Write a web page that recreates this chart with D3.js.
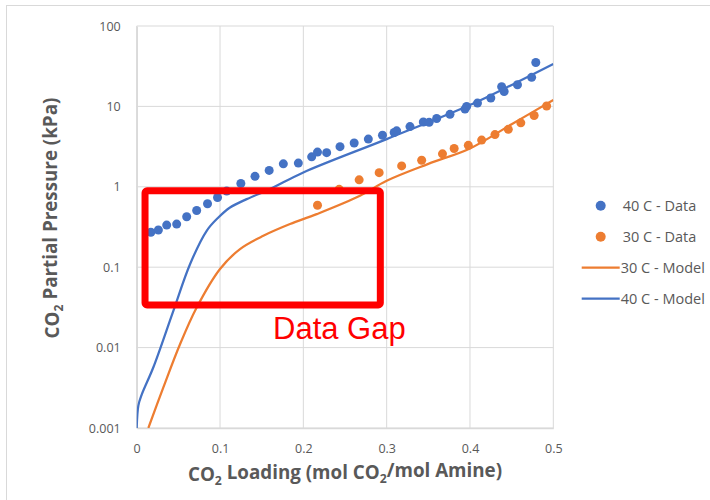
<!DOCTYPE html>
<html>
<head>
<meta charset="utf-8">
<script src="https://cdn.jsdelivr.net/npm/d3@7"></script>
<style>
    body { margin: 0; background: #fff; }
    svg { display: block; font-family: "Open Sans", sans-serif; }
</style>
</head>
<body>
<div id="chart"></div>
<script>
// ---- data ----
const xTicks = [0, 0.1, 0.2, 0.3, 0.4, 0.5];
const xTickLabels = ['0', '0.1', '0.2', '0.3', '0.4', '0.5'];
const yTicks = [0.001, 0.01, 0.1, 1, 10, 100];
const yTickLabels = ['0.001', '0.01', '0.1', '1', '10', '100'];

// 40 C measured points
const data40Loading = [0.017, 0.026, 0.036, 0.048, 0.060, 0.072, 0.085, 0.097, 0.108, 0.125,
    0.142, 0.159, 0.176, 0.194, 0.210, 0.217, 0.228, 0.244, 0.261, 0.278, 0.295, 0.309, 0.312,
    0.328, 0.344, 0.351, 0.360, 0.376, 0.394, 0.396, 0.409, 0.425, 0.438, 0.441, 0.457, 0.474, 0.479];
const data40Pressure = [0.272, 0.290, 0.334, 0.344, 0.424, 0.508, 0.615, 0.736, 0.885, 1.10,
    1.35, 1.60, 1.93, 1.97, 2.36, 2.70, 2.66, 3.16, 3.51, 3.92, 4.37, 4.73, 4.97,
    5.61, 6.40, 6.34, 7.07, 7.97, 9.25, 10.0, 11.0, 12.7, 17.6, 15.3, 18.6, 23.0, 35.2];

// 30 C measured points
const data30Loading = [0.217, 0.243, 0.267, 0.291, 0.318, 0.342, 0.367, 0.381, 0.398, 0.414,
    0.430, 0.446, 0.461, 0.477, 0.492];
const data30Pressure = [0.589, 0.93, 1.22, 1.50, 1.82, 2.14, 2.57, 2.99, 3.28, 3.81,
    4.46, 5.18, 6.25, 7.71, 10.1];

// model curves
const model30Loading = [0.014, 0.032, 0.052, 0.072, 0.100, 0.124, 0.152, 0.184, 0.216, 0.268, 0.300, 0.350, 0.400, 0.450, 0.500];
const model30Pressure = [0.001, 0.0032, 0.011, 0.0315, 0.095, 0.168, 0.246, 0.344, 0.457, 0.773, 1.19, 1.93, 3.0, 6.0, 12.0];
const model40Loading = [0, 0.002, 0.006, 0.020, 0.044, 0.064, 0.084, 0.098, 0.112, 0.132, 0.160, 0.200, 0.300, 0.400, 0.452, 0.500];
const model40Pressure = [0.001, 0.0019, 0.0026, 0.0057, 0.0287, 0.109, 0.284, 0.415, 0.553, 0.703, 0.936, 1.51, 3.92, 10.4, 18.9, 33.6];

// "Data Gap" box, in data units
const gapLoading = [0.010, 0.2924];
const gapPressure = [0.0339, 0.89];

const legendLabels = ['40 C - Data', '30 C - Data', '30 C - Model', '40 C - Model'];

const blue = '#4472C4',
    orange = '#ED7D31',
    gridColor = '#d9d9d9',
    textColor = '#595959';

const width = 710,
    height = 500;
const plot = { left: 136.7, right: 553.3, top: 26, bottom: 428 };

const svg = d3.select('#chart').append('svg')
    .attr('width', width)
    .attr('height', height);

// outer chart frame (runs off the right and bottom edges)
svg.append('rect')
    .attr('x', 6.5)
    .attr('y', 5.5)
    .attr('width', width + 20)
    .attr('height', height + 20)
    .attr('fill', 'none')
    .attr('stroke', gridColor);

const xScale = d3.scaleLinear()
    .domain([0, 0.5])
    .range([plot.left, plot.right]);

const yScale = d3.scaleLog()
    .domain([0.001, 100])
    .range([plot.bottom, plot.top]);

// grid
const grid = svg.append('g').attr('class', 'grid');
grid.selectAll('line.v')
    .data(xTicks)
    .enter().append('line')
    .attr('class', 'v')
    .attr('x1', d => xScale(d)).attr('x2', d => xScale(d))
    .attr('y1', plot.top).attr('y2', plot.bottom)
    .attr('stroke', gridColor)
    .attr('stroke-width', 1);
grid.selectAll('line.h')
    .data(yTicks)
    .enter().append('line')
    .attr('class', 'h')
    .attr('x1', plot.left).attr('x2', plot.right)
    .attr('y1', d => yScale(d)).attr('y2', d => yScale(d))
    .attr('stroke', gridColor)
    .attr('stroke-width', 1);

// axes
const xAxis = d3.axisBottom(xScale)
    .tickValues(xTicks)
    .tickFormat((d, i) => xTickLabels[i])
    .tickSize(0)
    .tickPadding(16);

const gXAxis = svg.append('g')
    .attr('class', 'x axis')
    .attr('transform', `translate(0,${plot.bottom})`)
    .call(xAxis);

const yAxis = d3.axisLeft(yScale)
    .tickValues(yTicks)
    .tickFormat((d, i) => yTickLabels[i])
    .tickSize(0)
    .tickPadding(16);

const gYAxis = svg.append('g')
    .attr('class', 'y axis')
    .attr('transform', `translate(${plot.left},0)`)
    .call(yAxis);

[gXAxis, gYAxis].forEach(g => {
    g.select('.domain').attr('stroke', gridColor).attr('stroke-width', 1.5);
    g.selectAll('text')
        .attr('fill', textColor)
        .attr('font-size', 12.5)
        .attr('font-family', '"Open Sans", sans-serif');
});

// axis titles with subscript 2
function appendCO2Title(sel, parts) {
    parts.forEach(p => {
        if (p === '2') {
            sel.append('tspan').attr('font-size', '0.65em').attr('dy', '0.3em').text('2');
        } else {
            sel.append('tspan').attr('dy', sel.selectAll('tspan').size() ? '-0.3em' : 0).text(p);
        }
    });
}

const xTitle = svg.append('text')
    .attr('x', 345)
    .attr('y', 487)
    .attr('text-anchor', 'middle')
    .attr('font-size', 18.8)
    .attr('font-weight', 'bold')
    .attr('fill', textColor);
appendCO2Title(xTitle, ['CO', '2', ' Loading (mol CO', '2', '/mol Amine)']);

const yTitle = svg.append('text')
    .attr('transform', 'translate(65,218) rotate(-90)')
    .attr('text-anchor', 'middle')
    .attr('font-size', 18.8)
    .attr('font-weight', 'bold')
    .attr('fill', textColor);
appendCO2Title(yTitle, ['CO', '2', ' Partial Pressure (kPa)']);

// curves, clipped to the plot area
svg.append('clipPath')
    .attr('id', 'plot-clip')
    .append('rect')
    .attr('x', plot.left)
    .attr('y', plot.top)
    .attr('width', plot.right - plot.left)
    .attr('height', plot.bottom - plot.top);

const line = d3.line()
    .x(d => xScale(d[0]))
    .y(d => yScale(d[1]))
    .curve(d3.curveCatmullRom.alpha(0.5));

const curves = svg.append('g').attr('clip-path', 'url(#plot-clip)');

curves.append('path')
    .datum(d3.zip(model30Loading, model30Pressure))
    .attr('d', line)
    .attr('fill', 'none')
    .attr('stroke', orange)
    .attr('stroke-width', 2.25);

curves.append('path')
    .datum(d3.zip(model40Loading, model40Pressure))
    .attr('d', line)
    .attr('fill', 'none')
    .attr('stroke', blue)
    .attr('stroke-width', 2.25);

// measured points
svg.append('g')
    .selectAll('circle')
    .data(d3.zip(data40Loading, data40Pressure))
    .enter().append('circle')
    .attr('cx', d => xScale(d[0]))
    .attr('cy', d => yScale(d[1]))
    .attr('r', 4.5)
    .attr('fill', blue);

svg.append('g')
    .selectAll('circle')
    .data(d3.zip(data30Loading, data30Pressure))
    .enter().append('circle')
    .attr('cx', d => xScale(d[0]))
    .attr('cy', d => yScale(d[1]))
    .attr('r', 4.5)
    .attr('fill', orange);

// data gap annotation
svg.append('rect')
    .attr('x', xScale(gapLoading[0]))
    .attr('y', yScale(gapPressure[1]))
    .attr('width', xScale(gapLoading[1]) - xScale(gapLoading[0]))
    .attr('height', yScale(gapPressure[0]) - yScale(gapPressure[1]))
    .attr('rx', 2)
    .attr('fill', 'none')
    .attr('stroke', '#FF0000')
    .attr('stroke-width', 7);

svg.append('text')
    .attr('x', 273)
    .attr('y', 339)
    .attr('font-family', '"Liberation Sans", Arial, sans-serif')
    .attr('font-size', 31)
    .attr('fill', '#FF0000')
    .text('Data Gap');

// legend
const legendColors = [blue, orange, orange, blue];
const legendKinds = ['dot', 'dot', 'line', 'line'];
const legend = svg.append('g').attr('transform', 'translate(600.7,205.7)');
const items = legend.selectAll('g')
    .data(legendLabels)
    .enter().append('g')
    .attr('transform', (d, i) => `translate(0,${i * 31})`);

items.filter((d, i) => legendKinds[i] === 'dot')
    .append('circle')
    .attr('r', 5)
    .attr('fill', d => legendColors[legendLabels.indexOf(d)]);

items.filter((d, i) => legendKinds[i] === 'line')
    .append('line')
    .attr('x1', -19).attr('x2', 19)
    .attr('stroke', d => legendColors[legendLabels.indexOf(d)])
    .attr('stroke-width', 2.25);

items.append('text')
    .attr('x', (d, i) => legendKinds[i] === 'dot' ? 22 : 20)
    .attr('dy', '0.35em')
    .attr('font-size', 14.5)
    .attr('fill', textColor)
    .text(d => d);
</script>
</body>
</html>
